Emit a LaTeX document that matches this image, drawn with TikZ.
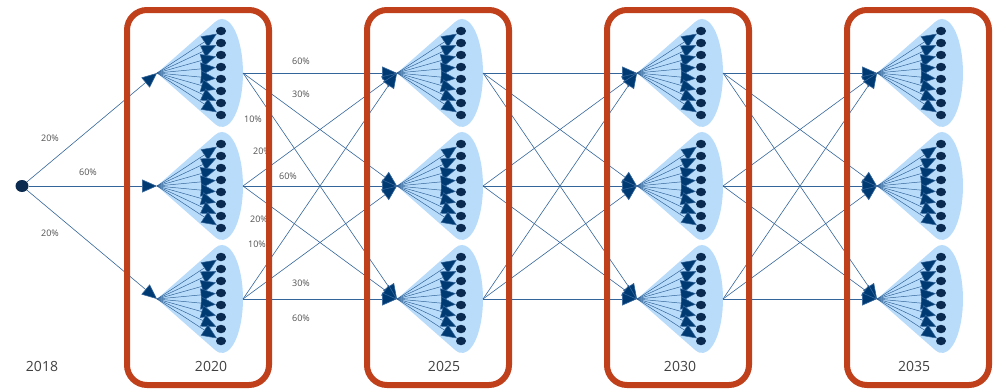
\documentclass[tikz,border=0pt]{standalone}
\usepackage{fontspec}
\setmainfont{Open Sans}
\usetikzlibrary{arrows.meta,calc,shapes.geometric}
\definecolor{framered}{HTML}{C1401C}
\definecolor{fanblue}{HTML}{B9DCFB}
\definecolor{dotnavy}{HTML}{0B2A4F}
\definecolor{tipblue}{HTML}{003A72}
\definecolor{linkblue}{HTML}{33659A}
\definecolor{labelgray}{HTML}{505050}
\definecolor{yeargray}{HTML}{404040}
\begin{document}
\begin{tikzpicture}[x=1pt, y=-1pt,
    dot/.style = {shape=ellipse, fill=dotnavy, inner sep=0pt,
      minimum width=10pt, minimum height=8.5pt},
    fan/.style = {draw=linkblue, line width=0.5pt,
      -{Triangle[length=15pt, width=13pt, fill=tipblue]}},
    link/.style = {draw=linkblue, line width=0.6pt,
      -{Triangle[length=15pt, width=13pt, fill=tipblue]}},
    pct/.style = {text=labelgray, font=\fontsize{9}{10}\selectfont, inner sep=0pt},
    year/.style = {text=yeargray, font=\fontsize{14}{16}\selectfont, inner sep=0pt},
    frame/.style = {draw=framered, line width=6pt, rounded corners=20pt}]
  \useasboundingbox (0,0) rectangle (996,389);

  % hubs, fans and dots
  \foreach \c in {0,1,2,3} {
    \foreach \r in {0,1,2} {
      \coordinate (h-\c-\r) at (157+240*\c, 73+113*\r);
      \coordinate (o-\c-\r) at ($(h-\c-\r)+(86,0)$);
      \fill[fanblue] (h-\c-\r) -- ++(58.2,51.1)
        arc[start angle=108.8, end angle=-108.8, x radius=21, y radius=54] -- cycle;
      \foreach \k in {0,...,7}
        \node[dot] (d-\c-\r-\k) at ($(h-\c-\r)+(64,-42+12*\k)$) {};
      \foreach \k in {0,...,7}
        \draw[fan] (h-\c-\r) -- (d-\c-\r-\k);
    }
  }

  % root
  \node[dot, minimum width=13pt, minimum height=12pt] (root) at (22,186) {};
  \foreach \r in {0,1,2}
    \draw[link] (root) -- (h-0-\r);

  % links between years
  \foreach \c [evaluate=\c as \n using int(\c+1)] in {0,1,2} {
    \foreach \r in {0,1,2} {
      \foreach \s in {0,1,2}
        \draw[link] (o-\c-\r) -- (h-\n-\s);
    }
  }

  % shares
  \node[pct] (p-r0) at (50,138) {20\%};
  \node[pct] (p-r1) at (88,172) {60\%};
  \node[pct] (p-r2) at (50,233) {20\%};
  \node[pct] (p-00) at (301,61) {60\%};
  \node[pct] (p-01) at (301,94) {30\%};
  \node[pct] (p-02) at (253,119) {10\%};
  \node[pct] (p-10) at (262,151) {20\%};
  \node[pct] (p-11) at (288,176) {60\%};
  \node[pct] (p-12) at (259,219) {20\%};
  \node[pct] (p-20) at (257,244) {10\%};
  \node[pct] (p-21) at (301,283) {30\%};
  \node[pct] (p-22) at (301,318) {60\%};

  % year frames
  \foreach \c in {0,1,2,3}
    \draw[frame] (127+240*\c,10) rectangle (269+240*\c,385);

  \node[year] (y2018) at (42,366) {2018};
  \node[year] (y2020) at (211,366) {2020};
  \node[year] (y2025) at (444,366) {2025};
  \node[year] (y2030) at (680,366) {2030};
  \node[year] (y2035) at (914,366) {2035};
\end{tikzpicture}
\end{document}
